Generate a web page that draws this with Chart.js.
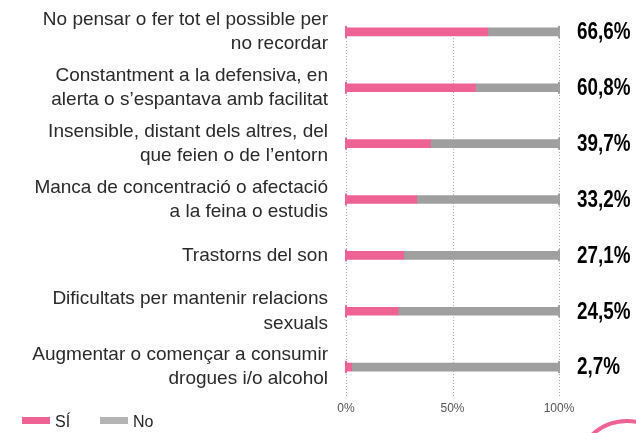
<!DOCTYPE html>
<html>
<head>
<meta charset="utf-8">
<script src="https://cdn.jsdelivr.net/npm/chart.js@4/dist/chart.umd.min.js"></script>
<style>
  html, body { margin: 0; padding: 0; background: #ffffff; }
  #wrap { width: 636px; height: 433px; position: relative; }
</style>
</head>
<body>
<div id="wrap"><canvas id="chart" width="636" height="433"></canvas></div>
<script>
// Symptoms (each label split into its display lines)
const categories = [
  ["No pensar o fer tot el possible per", "no recordar"],
  ["Constantment a la defensiva, en", "alerta o s\u2019espantava amb facilitat"],
  ["Insensible, distant dels altres, del", "que feien o de l\u2019entorn"],
  ["Manca de concentraci\u00f3 o afectaci\u00f3", "a la feina o estudis"],
  ["Trastorns del son"],
  ["Dificultats per mantenir relacions", "sexuals"],
  ["Augmentar o comen\u00e7ar a consumir", "drogues i/o alcohol"]
];

// Share answering "Sí" and "No" (percent)
const siValues = [66.6, 60.8, 39.7, 33.2, 27.1, 24.5, 2.7];
const noValues = [33.4, 39.2, 60.3, 66.8, 72.9, 75.5, 97.3];

// Axis ticks
const xTicks = [0, 50, 100];
const xTickLabels = ["0%", "50%", "100%"];

const seriesNames = ["S\u00cd", "No"];
const barColors = ["#EF6294", "#9F9F9F"];
const legendColors = ["#EF6294", "#B4B4B4"];

const labelFont = "'Liberation Sans', Arial, sans-serif";

function fmtPct(v) {
  return v.toFixed(1).replace('.', ',') + '%';
}

// Dotted guides behind the bars, from the first row down to the axis
const guides = {
  id: 'guides',
  beforeDatasetsDraw(chart) {
    const { ctx, chartArea, scales: { x, y } } = chart;
    const top = y.getPixelForValue(0);
    ctx.save();
    ctx.strokeStyle = '#A8A8A8';
    ctx.lineWidth = 1;
    ctx.setLineDash([1, 2]);
    xTicks.forEach(t => {
      const px = Math.round(x.getPixelForValue(t)) + 0.5;
      ctx.beginPath();
      ctx.moveTo(px, top);
      ctx.lineTo(px, chartArea.bottom + 3);
      ctx.stroke();
    });
    ctx.restore();
  }
};

// End caps, value labels, legend and corner ring
const extras = {
  id: 'extras',
  afterDatasetsDraw(chart) {
    const { ctx, scales: { x, y } } = chart;
    siValues.forEach((v, i) => {
      const cy = y.getPixelForValue(i);
      const x0 = x.getPixelForValue(0);
      const x1 = x.getPixelForValue(100);
      ctx.save();
      ctx.fillStyle = barColors[0];
      ctx.fillRect(x0 - 1, cy - 6, 2, 12);
      ctx.fillStyle = barColors[1];
      ctx.fillRect(x1 - 1, cy - 6, 2, 12);

      // condensed bold value label
      ctx.translate(x1 + 18, cy + 1);
      ctx.scale(0.82, 1);
      ctx.fillStyle = '#000000';
      ctx.font = "bold 23px " + labelFont;
      ctx.textAlign = 'left';
      ctx.textBaseline = 'middle';
      ctx.fillText(fmtPct(v), 0, 0);
      ctx.restore();
    });
  },
  afterDraw(chart) {
    const { ctx } = chart;
    ctx.save();
    // legend
    let lx = 22;
    const ly = 421;
    ctx.font = "16px " + labelFont;
    ctx.textBaseline = 'middle';
    ctx.textAlign = 'left';
    seriesNames.forEach((name, i) => {
      ctx.fillStyle = legendColors[i];
      ctx.fillRect(lx, ly - 4, 28, 7);
      ctx.fillStyle = '#262626';
      ctx.fillText(name, lx + 33, ly + 2);
      lx += 78;
    });
    // corner ring
    ctx.strokeStyle = '#EF6294';
    ctx.lineWidth = 4;
    ctx.beginPath();
    ctx.arc(627, 472, 51, 0, Math.PI * 2);
    ctx.stroke();
    ctx.restore();
  }
};

new Chart(document.getElementById('chart'), {
  type: 'bar',
  data: {
    labels: categories,
    datasets: [
      { label: seriesNames[0], data: siValues, backgroundColor: barColors[0], barThickness: 8, borderWidth: 0 },
      { label: seriesNames[1], data: noValues, backgroundColor: barColors[1], barThickness: 8, borderWidth: 0 }
    ]
  },
  options: {
    indexAxis: 'y',
    responsive: false,
    animation: false,
    layout: { padding: { left: 0, right: 77, top: 4, bottom: 18 } },
    plugins: {
      legend: { display: false },
      tooltip: { enabled: false }
    },
    scales: {
      x: {
        stacked: true,
        min: 0,
        max: 100,
        border: { display: false },
        grid: { display: false, drawTicks: false },
        afterBuildTicks(scale) {
          scale.ticks = xTicks.map(v => ({ value: v }));
        },
        afterFit(scale) {
          scale.height = 20;
          scale.paddingLeft = 0;
          scale.paddingRight = 0;
        },
        ticks: {
          padding: 6,
          color: '#555555',
          font: { family: labelFont, size: 12 },
          maxRotation: 0,
          callback(value) {
            const i = xTicks.indexOf(value);
            return i >= 0 ? xTickLabels[i] : '';
          }
        }
      },
      y: {
        stacked: true,
        border: { display: false },
        grid: { display: false, drawTicks: false },
        afterFit(scale) {
          scale.width = 346;
          scale.paddingTop = 0;
          scale.paddingBottom = 0;
        },
        ticks: {
          padding: 18,
          color: '#2a2a2a',
          font: { family: labelFont, size: 19, lineHeight: 1.27 }
        }
      }
    }
  },
  plugins: [guides, extras]
});
</script>
</body>
</html>
